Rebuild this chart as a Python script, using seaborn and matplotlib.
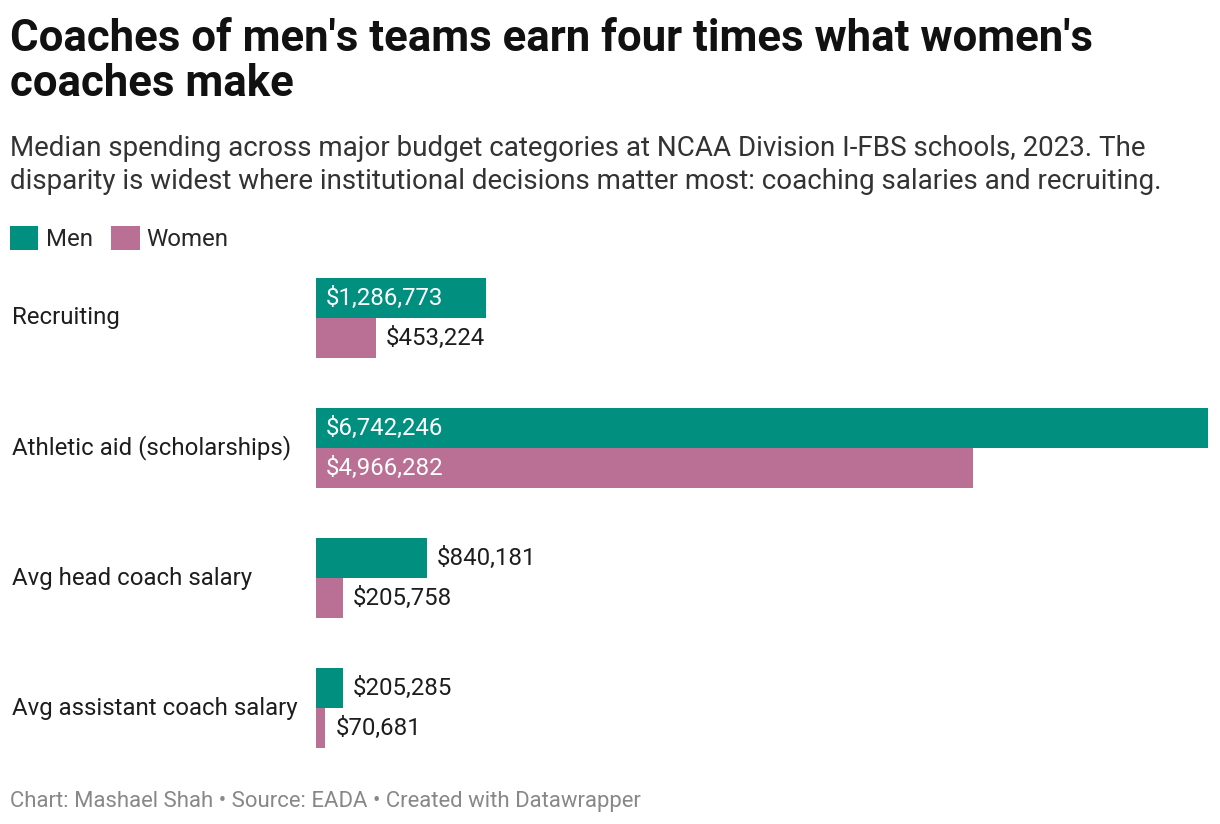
import pandas as pd
import matplotlib.pyplot as plt
import matplotlib.transforms as mtrans
import seaborn as sns

## Data
categories = ["Recruiting", "Athletic aid (scholarships)", "Avg head coach salary",
              "Avg assistant coach salary"]
men = [1286773, 6742246, 840181, 205285]
women = [453224, 4966282, 205758, 70681]

df = pd.DataFrame({"category": categories * 2,
                   "group": ["Men"] * 4 + ["Women"] * 4,
                   "value": men + women})

## Style
sns.set_style("white")
plt.rcParams["font.family"] = ["Roboto", "DejaVu Sans"]
colors = {"Men": "#018f80", "Women": "#ba6f95"}
dark = "#1d1d1d"

fig = plt.figure(figsize=(12.2, 8.24), dpi=100)
ax = fig.add_axes([316 / 1220, 1 - 773 / 824, 892 / 1220, 520 / 824])

sns.barplot(df, x="value", y="category", hue="group", orient="h", palette=colors,
            width=80 / 130, saturation=1, ax=ax, linewidth=0)

ax.set_xlim(0, max(men))
ax.set_ylim(len(categories) - 0.5, -0.5)
ax.set_xlabel("")
ax.set_ylabel("")
ax.set_xticks([])
ax.set_yticks([])
sns.despine(ax=ax, left=True, bottom=True)

# category labels on the far left
tr = mtrans.blended_transform_factory(fig.transFigure, ax.transData)
for i, cat in enumerate(categories):
    ax.text(12 / 1220, i, cat, transform=tr, ha="left", va="center",
            fontsize=17.3, color=dark)

# value labels, inside the bar when it's long enough
for cont, vals in zip(ax.containers, [men, women]):
    for bar, v in zip(cont, vals):
        y = bar.get_y() + bar.get_height() / 2
        label = f"${v:,.0f}"
        if v > 1000000:
            ax.annotate(label, (0, y), xytext=(10, 0), textcoords="offset pixels",
                        ha="left", va="center", fontsize=17.3, color="white")
        else:
            ax.annotate(label, (v, y), xytext=(10, 0), textcoords="offset pixels",
                        ha="left", va="center", fontsize=17.3, color=dark)

# legend
sns.move_legend(ax, "upper left", bbox_to_anchor=(0 / 1220, 1 - 216 / 824),
                bbox_transform=fig.transFigure, ncol=2, frameon=False, title=None,
                fontsize=17.3, handlelength=1.2, handleheight=1.2, handletextpad=0.3,
                columnspacing=0.75, borderaxespad=0)

## Titles
fig.text(10 / 1220, 1 - 18 / 824, "Coaches of men's teams earn four times what women's\ncoaches make",
         ha="left", va="top", fontsize=31.5, fontweight="bold", color="#111111", linespacing=1.1)
fig.text(10 / 1220, 1 - 135 / 824,
         "Median spending across major budget categories at NCAA Division I-FBS schools, 2023. The\n"
         "disparity is widest where institutional decisions matter most: coaching salaries and recruiting.",
         ha="left", va="top", fontsize=20, color="#333333", linespacing=1.3)
fig.text(10 / 1220, 1 - 801 / 824, "Chart: Mashael Shah • Source: EADA • Created with Datawrapper",
         ha="left", va="center", fontsize=15.9, color="#888888")

fig.savefig("out.png", dpi=100)
